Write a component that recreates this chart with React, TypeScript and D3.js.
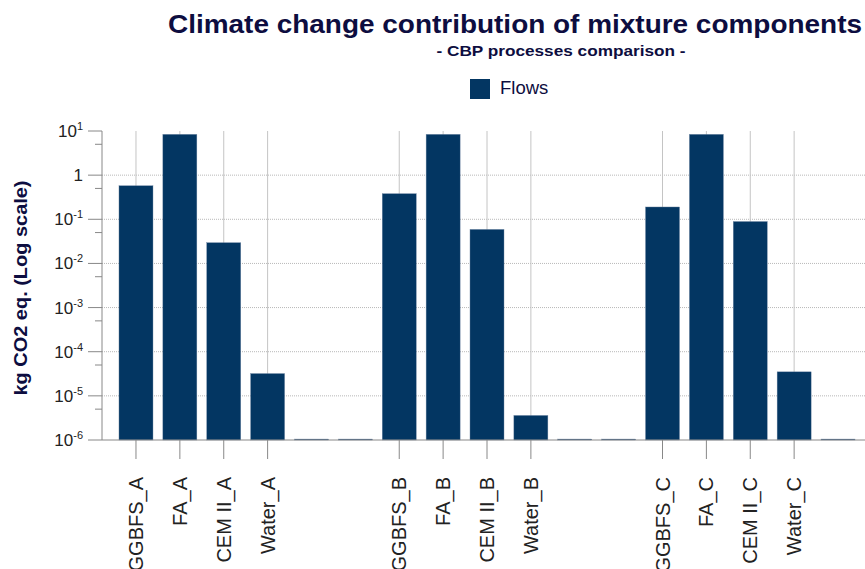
import React, { useEffect, useRef } from "react";
import * as d3 from "d3";

// Category labels (empty strings are unlabeled spacer slots)
const labels: string[] = [
  "GGBFS_A", "FA_A", "CEM II_A", "Water_A", "", "",
  "GGBFS_B", "FA_B", "CEM II_B", "Water_B", "", "",
  "GGBFS_C", "FA_C", "CEM II_C", "Water_C", "",
];

// Flows series, kg CO2 eq.
const flows: number[] = [
  0.575, 8.4, 0.0295, 3.2e-5, 1.05e-6, 1.05e-6,
  0.38, 8.4, 0.059, 3.6e-6, 1.05e-6, 1.05e-6,
  0.19, 8.4, 0.089, 3.5e-5, 1.05e-6,
];

// Major ticks are powers of ten; minor ticks sit at 5 x 10^n
const majorExponents: number[] = [1, 0, -1, -2, -3, -4, -5, -6];
const minorTicks: number[] = [5, 0.5, 0.05, 0.005, 5e-4, 5e-5, 5e-6];

const W = 865;
const H = 569;
const BAR = "#033662";
const NAVY = "#0d0d40";
const FONT = "Liberation Sans, Arial, sans-serif";

export default function App() {
  const ref = useRef<SVGSVGElement>(null);

  useEffect(() => {
    const svg = d3.select(ref.current);
    svg.selectAll("*").remove();

    const left = 102;
    const top = 131;
    const bottom = 440;

    const x = d3
      .scaleBand<number>()
      .domain(d3.range(labels.length))
      .range([left, 872])
      .paddingInner(0.225)
      .paddingOuter(0.387);

    const y = d3.scaleLog().domain([1e-6, 10]).range([bottom, top]);

    // Title block
    svg.append("text")
      .attr("x", 862).attr("y", 33)
      .attr("text-anchor", "end")
      .attr("font-family", FONT).attr("font-weight", "bold")
      .attr("font-size", 25).attr("fill", NAVY)
      .attr("textLength", 694).attr("lengthAdjust", "spacingAndGlyphs")
      .text("Climate change contribution of mixture components");

    svg.append("text")
      .attr("x", 561).attr("y", 56)
      .attr("text-anchor", "middle")
      .attr("font-family", FONT).attr("font-weight", "bold")
      .attr("font-size", 15).attr("fill", NAVY)
      .attr("textLength", 249).attr("lengthAdjust", "spacingAndGlyphs")
      .text("- CBP processes comparison -");

    // Legend
    svg.append("rect")
      .attr("x", 470).attr("y", 79).attr("width", 20).attr("height", 20)
      .attr("fill", BAR);
    svg.append("text")
      .attr("x", 500).attr("y", 94)
      .attr("font-family", FONT).attr("font-size", 18.5).attr("fill", NAVY)
      .text("Flows");

    // Horizontal dotted gridlines at each decade below the top
    const g = svg.append("g");
    g.selectAll("line.hgrid")
      .data(majorExponents.filter((e) => e < 1 && e > -6))
      .join("line")
      .attr("class", "hgrid")
      .attr("x1", left).attr("x2", W)
      .attr("y1", (e) => y(Math.pow(10, e)))
      .attr("y2", (e) => y(Math.pow(10, e)))
      .attr("stroke", "#b8b8b8")
      .attr("stroke-width", 1)
      .attr("stroke-dasharray", "1,1");

    // Vertical gridlines at labeled categories
    const labeled = d3.range(labels.length).filter((i) => labels[i] !== "");
    g.selectAll("line.vgrid")
      .data(labeled)
      .join("line")
      .attr("class", "vgrid")
      .attr("x1", (i) => x(i)! + x.bandwidth() / 2)
      .attr("x2", (i) => x(i)! + x.bandwidth() / 2)
      .attr("y1", top).attr("y2", bottom)
      .attr("stroke", "#c4c4c4").attr("stroke-width", 1);

    // Bars
    g.selectAll("rect.bar")
      .data(flows)
      .join("rect")
      .attr("class", "bar")
      .attr("x", (_, i) => x(i)!)
      .attr("width", x.bandwidth())
      .attr("y", (d) => y(d))
      .attr("height", (d) => bottom - y(d))
      .attr("fill", BAR)
      .attr("stroke", "#6f86a3")
      .attr("stroke-width", 0.4);

    // Y axis line and ticks
    svg.append("line")
      .attr("x1", left).attr("x2", left).attr("y1", top).attr("y2", bottom)
      .attr("stroke", "#888").attr("stroke-width", 1);

    svg.selectAll("line.major")
      .data(majorExponents)
      .join("line")
      .attr("class", "major")
      .attr("x1", 88).attr("x2", left)
      .attr("y1", (e) => y(Math.pow(10, e)))
      .attr("y2", (e) => y(Math.pow(10, e)))
      .attr("stroke", "#888");

    svg.selectAll("line.minor")
      .data(minorTicks)
      .join("line")
      .attr("class", "minor")
      .attr("x1", 95).attr("x2", left)
      .attr("y1", (d) => y(d)).attr("y2", (d) => y(d))
      .attr("stroke", "#888");

    const tl = svg.selectAll("text.ytick")
      .data(majorExponents)
      .join("text")
      .attr("class", "ytick")
      .attr("x", 83)
      .attr("y", (e) => y(Math.pow(10, e)) + 6)
      .attr("text-anchor", "end")
      .attr("font-family", FONT).attr("font-size", 17).attr("fill", "#222");
    tl.each(function (e) {
      const t = d3.select(this);
      if (e === 0) {
        t.append("tspan").text("1");
      } else {
        t.append("tspan").text("10");
        t.append("tspan")
          .attr("font-size", 11).attr("dy", -7)
          .text(e > 0 ? String(e) : "-" + String(-e));
      }
    });

    // X axis line, ticks and rotated labels
    svg.append("line")
      .attr("x1", left).attr("x2", W).attr("y1", bottom).attr("y2", bottom)
      .attr("stroke", "#888");

    svg.selectAll("line.xtick")
      .data(labeled)
      .join("line")
      .attr("class", "xtick")
      .attr("x1", (i) => x(i)! + x.bandwidth() / 2)
      .attr("x2", (i) => x(i)! + x.bandwidth() / 2)
      .attr("y1", bottom).attr("y2", 459)
      .attr("stroke", "#888");

    svg.selectAll("text.xlab")
      .data(labeled)
      .join("text")
      .attr("class", "xlab")
      .attr("transform", (i) => `translate(${x(i)! + x.bandwidth() / 2 + 7},477) rotate(-90)`)
      .attr("text-anchor", "end")
      .attr("font-family", FONT).attr("font-size", 20).attr("fill", "#222")
      .text((i) => labels[i]);

    // Y axis title
    svg.append("text")
      .attr("transform", "translate(27,288) rotate(-90)")
      .attr("text-anchor", "middle")
      .attr("font-family", FONT).attr("font-weight", "bold")
      .attr("font-size", 19).attr("fill", NAVY)
      .attr("textLength", 215).attr("lengthAdjust", "spacingAndGlyphs")
      .text("kg CO2 eq. (Log scale)");
  }, []);

  return (
    <svg
      ref={ref}
      width={W}
      height={H}
      style={{ position: "absolute", left: 0, top: 0, background: "#fff" }}
    />
  );
}
